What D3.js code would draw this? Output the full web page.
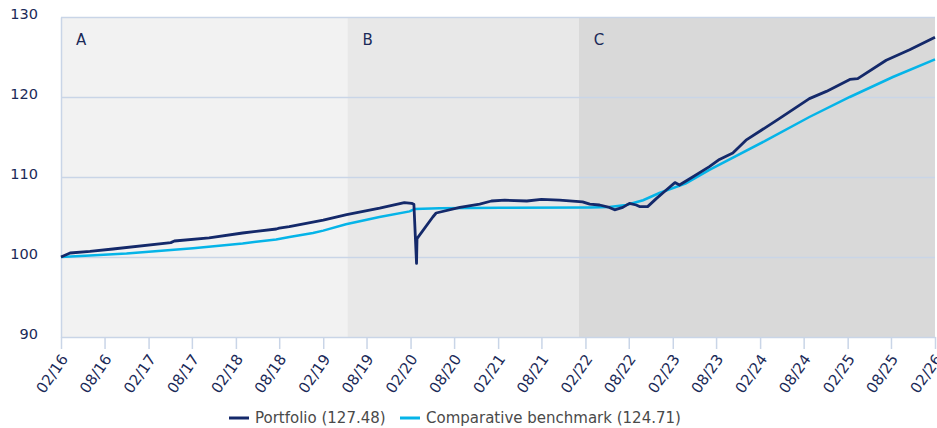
<!DOCTYPE html>
<html lang="en">
<head>
    <meta charset="UTF-8">
    <title>Portfolio vs comparative benchmark</title>
    <script src="https://d3js.org/d3.v7.min.js"></script>
    <style>
        body { margin: 0; background: #fff; }
        svg text { font-family: "DejaVu Sans", Verdana, sans-serif; }
    </style>
</head>
<body>
    <script>
        // Portfolio, indexed to 100
        const portfolioDates = ["2016-02-01","2016-03-10","2016-06-01","2016-09-05","2017-05-05","2017-05-20","2017-10-12",
            "2018-03-01","2018-07-20","2018-08-01","2018-09-12","2019-02-01","2019-05-10","2019-09-25","2020-01-06",
            "2020-02-06","2020-02-15","2020-02-26","2020-02-28","2020-05-04","2020-05-18","2020-08-25","2020-11-16",
            "2021-01-04","2021-03-01","2021-06-01","2021-08-01","2021-10-16","2022-01-20","2022-02-19","2022-04-01",
            "2022-05-12","2022-06-03","2022-07-07","2022-08-04","2022-09-01","2022-09-15","2022-10-19","2022-11-24",
            "2023-01-06","2023-02-10","2023-03-01","2023-04-25","2023-07-04","2023-08-15","2023-10-10","2023-12-04",
            "2024-04-21","2024-08-25","2024-11-04","2025-02-10","2025-03-15","2025-07-12","2025-10-18","2026-02-01"];
        const portfolioValues = [100.0,100.5,100.7,101.0,101.8,102.0,102.4,
            103.0,103.5,103.6,103.8,104.6,105.3,106.1,106.8,
            106.7,106.6,99.2,102.3,105.0,105.5,106.2,106.6,
            107.0,107.1,107.0,107.2,107.1,106.9,106.6,106.5,
            106.2,105.9,106.2,106.7,106.5,106.3,106.3,107.3,
            108.4,109.3,109.0,110.0,111.3,112.2,113.0,114.6,
            117.3,119.8,120.7,122.2,122.3,124.6,125.9,127.48];

        // Comparative benchmark
        const benchmarkDates = ["2016-02-01","2016-06-01","2016-11-01","2017-08-06","2018-03-01","2018-07-19","2018-09-13",
            "2018-12-20","2019-02-01","2019-05-07","2019-09-24","2020-01-28","2020-02-18","2020-06-01","2021-02-09",
            "2022-02-19","2022-05-12","2022-07-21","2022-09-30","2022-12-07","2023-03-28","2023-07-04","2024-02-28",
            "2024-08-25","2025-02-10","2025-08-09","2026-02-01"];
        const benchmarkValues = [100.0,100.2,100.45,101.1,101.7,102.2,102.5,
            103.0,103.3,104.1,105.0,105.7,106.0,106.1,106.15,
            106.2,106.25,106.5,107.1,108.0,109.2,110.9,114.6,
            117.5,120.0,122.5,124.71];

        // Shaded phases
        const phaseNames = ["A", "B", "C"];
        const phaseStarts = ["2016-02-01", "2019-05-13", "2022-01-04"];
        const phaseEnds = ["2019-05-13", "2022-01-04", "2026-02-01"];
        const phaseColors = ["#f2f2f2", "#e8e8e8", "#d9d9d9"];

        const yTicks = [90, 100, 110, 120, 130];
        const legendNames = ["Portfolio (127.48)", "Comparative benchmark (124.71)"];

        const width = 937, height = 428;
        const margin = {top: 17, right: 2, bottom: 91, left: 61};
        const parse = d3.timeParse("%Y-%m-%d");

        const navy = "#14296a", cyan = "#05b4e8", grid = "#c9d5e7", textNavy = "#1b2a58";

        const portfolio = portfolioDates.map((d, i) => ({date: parse(d), value: portfolioValues[i]}));
        const benchmark = benchmarkDates.map((d, i) => ({date: parse(d), value: benchmarkValues[i]}));

        const x = d3.scaleTime()
            .domain([parse("2016-02-01"), parse("2026-02-01")])
            .range([margin.left, width - margin.right]);
        const y = d3.scaleLinear()
            .domain([90, 130])
            .range([height - margin.bottom, margin.top]);

        const svg = d3.select("body").append("svg")
            .attr("width", width)
            .attr("height", height);

        // phase backgrounds
        svg.append("g").selectAll("rect")
            .data(phaseNames)
            .join("rect")
            .attr("x", (d, i) => x(parse(phaseStarts[i])))
            .attr("width", (d, i) => x(parse(phaseEnds[i])) - x(parse(phaseStarts[i])))
            .attr("y", y(130))
            .attr("height", y(90) - y(130))
            .attr("fill", (d, i) => phaseColors[i]);

        svg.append("g").selectAll("text")
            .data(phaseNames)
            .join("text")
            .attr("x", (d, i) => x(parse(phaseStarts[i])) + 15)
            .attr("y", 45)
            .attr("fill", textNavy)
            .style("font-size", "15px")
            .text(d => d);

        // gridlines
        svg.append("g").selectAll("line")
            .data(yTicks.slice(1))
            .join("line")
            .attr("x1", margin.left)
            .attr("x2", width - margin.right)
            .attr("y1", d => y(d) + 0.5)
            .attr("y2", d => y(d) + 0.5)
            .attr("stroke", grid)
            .attr("stroke-width", 1.5);

        // y axis
        const yAxis = svg.append("g")
            .attr("transform", `translate(${margin.left},0)`)
            .call(d3.axisLeft(y).tickValues(yTicks).tickSize(0).tickPadding(23));
        yAxis.select(".domain").attr("stroke", grid).attr("stroke-width", 1.5);
        yAxis.selectAll("text").attr("fill", textNavy).style("font-size", "14.5px")
            .attr("dy", "0.1em");

        // x axis, one tick every six months
        const xTicks = d3.range(0, 21).map(i => d3.timeMonth.offset(parse("2016-02-01"), i * 6));
        const xAxis = svg.append("g")
            .attr("transform", `translate(0,${y(90)})`)
            .call(d3.axisBottom(x).tickValues(xTicks).tickFormat(d3.timeFormat("%m/%y")).tickSize(12).tickSizeOuter(0));
        xAxis.select(".domain").attr("stroke", grid).attr("stroke-width", 1.5);
        xAxis.selectAll(".tick line").attr("stroke", grid).attr("stroke-width", 1.5);
        xAxis.selectAll("text")
            .attr("fill", textNavy)
            .style("font-size", "15px")
            .attr("text-anchor", "end")
            .attr("transform", "translate(3,19) rotate(-55)")
            .attr("dy", "0.35em")
            .attr("y", 0);

        // lines
        const line = d3.line().x(d => x(d.date)).y(d => y(d.value));
        svg.append("path")
            .datum(benchmark)
            .attr("d", line)
            .attr("fill", "none")
            .attr("stroke", cyan)
            .attr("stroke-width", 2.5);
        svg.append("path")
            .datum(portfolio)
            .attr("d", line)
            .attr("fill", "none")
            .attr("stroke", navy)
            .attr("stroke-width", 2.8)
            .attr("stroke-linejoin", "round");

        // legend
        const legend = svg.append("g").attr("transform", "translate(229,418)");
        const legendColors = [navy, cyan];
        const legendX = [0, 171];
        legendNames.forEach((name, i) => {
            const g = legend.append("g").attr("transform", `translate(${legendX[i]},0)`);
            g.append("line").attr("x1", 0).attr("x2", 20).attr("y1", 0).attr("y2", 0)
                .attr("stroke", legendColors[i]).attr("stroke-width", 3);
            g.append("text").attr("x", 26).attr("y", 0).attr("dy", "0.35em")
                .attr("fill", "#4a4a4a").style("font-size", "15px").text(name);
        });
    </script>
</body>
</html>
